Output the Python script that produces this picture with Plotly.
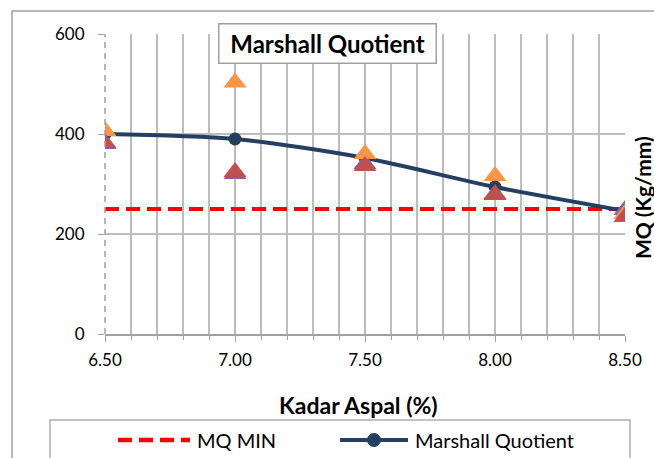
import plotly.graph_objects as go

kadar = [6.5, 7.0, 7.5, 8.0, 8.5]
mq_min = [250, 250, 250, 250, 250]
mq_avg = [400, 390, 352, 294, 246]
sample_purple = [380, 320, 340, 278, 248]
sample_orange = [406, 503, 360, 316, 240]
sample_red = [382, 324, 336, 280, 234]
x_ticks = [6.5, 7.0, 7.5, 8.0, 8.5]
y_ticks = [0, 200, 400, 600]

FONT = "Lato"
RED = "#FF0000"
NAVY = "#243F60"
GRID = "#BDBDBD"
AXC = "#A0A0A0"

fig = go.Figure()
fig.add_trace(go.Scatter(x=kadar, y=mq_min, mode="lines", name="MQ MIN",
                         line=dict(color=RED, width=4, dash="14px,7px")))
fig.add_trace(go.Scatter(x=kadar, y=mq_avg, mode="lines+markers", name="Marshall Quotient",
                         line=dict(color=NAVY, width=4, shape="spline", smoothing=0.8),
                         marker=dict(symbol="circle", size=13, color=NAVY)))
for vals, col in [(sample_purple, "#8064A2"), (sample_orange, "#F79646"), (sample_red, "#C0504D")]:
    fig.add_trace(go.Scatter(x=kadar, y=vals, mode="markers", showlegend=False,
                             marker=dict(symbol="triangle-up", size=20, color=col)))

# legend drawn manually (long Excel-style sample lines)
LY = -0.3533
shapes = [
    dict(type="line", xref="paper", yref="paper", x0=0, x1=0, y0=0, y1=1,
         line=dict(color=AXC, width=1.5, dash="6px,5px")),
    dict(type="rect", xref="paper", yref="paper", x0=-0.1058, x1=1.0096, y0=-0.46, y1=-0.2867,
         line=dict(color="#B0B0B0", width=1.5)),
    dict(type="rect", xref="paper", yref="paper", x0=-0.1788, x1=1.07, y0=-0.46, y1=1.0767,
         line=dict(color=AXC, width=1.5), layer="below"),
    dict(type="line", xref="paper", yref="paper", x0=0.025, x1=0.1635, y0=LY, y1=LY,
         line=dict(color=RED, width=4.5, dash="14px,7px")),
    dict(type="line", xref="paper", yref="paper", x0=0.4519, x1=0.5827, y0=LY, y1=LY,
         line=dict(color=NAVY, width=4)),
    dict(type="circle", xref="paper", yref="paper", xsizemode="pixel", ysizemode="pixel",
         xanchor=0.5173, yanchor=LY, x0=-6.5, x1=6.5, y0=-6.5, y1=6.5,
         fillcolor=NAVY, line=dict(color=NAVY, width=1)),
]

annotations = [
    dict(text="<b>Marshall Quotient</b>", xref="paper", yref="paper", x=0.4288, y=0.968,
         xanchor="center", yanchor="middle", showarrow=False,
         font=dict(size=24, family=FONT, color="black"),
         bgcolor="white", bordercolor=AXC, borderwidth=1.5, borderpad=3,
         width=210, height=32),
    dict(text="<b>MQ (Kg/mm)</b>", xref="paper", yref="paper", x=1.0, xshift=17, y=0.453,
         xanchor="center", yanchor="middle", showarrow=False, textangle=-90,
         font=dict(size=21, family=FONT, color="black")),
    dict(text="<b>Kadar Aspal (%)</b>", xref="paper", yref="paper", x=0.4875, y=-0.237,
         xanchor="center", yanchor="middle", showarrow=False,
         font=dict(size=23, family=FONT, color="black")),
    dict(text="MQ MIN", xref="paper", yref="paper", x=0.1731, y=LY,
         xanchor="left", yanchor="middle", showarrow=False,
         font=dict(size=20, family=FONT, color="black")),
    dict(text="Marshall Quotient", xref="paper", yref="paper", x=0.5923, y=LY,
         xanchor="left", yanchor="middle", showarrow=False,
         font=dict(size=20, family=FONT, color="black")),
]

fig.update_layout(
    width=654, height=458,
    margin=dict(l=105, r=29, t=34, b=124, autoexpand=False),
    paper_bgcolor="white", plot_bgcolor="white",
    font=dict(family=FONT, size=17, color="black"),
    showlegend=False,
    xaxis=dict(range=[6.5, 8.5], tickvals=x_ticks, tickformat=".2f", automargin=False,
               showgrid=True, gridcolor=GRID, gridwidth=1.5,
               showline=True, linecolor=AXC, linewidth=1.5,
               ticks="outside", ticklen=6, tickcolor=AXC, ticklabelstandoff=4,
               minor=dict(dtick=0.1, showgrid=True, gridcolor=GRID, gridwidth=1.5,
                          ticks="outside", ticklen=4, tickcolor=AXC),
               zeroline=False),
    yaxis=dict(range=[0, 600], tickvals=y_ticks, automargin=False,
               showgrid=True, gridcolor=GRID, gridwidth=1.5,
               showline=False, ticks="outside", ticklen=6, tickcolor=AXC,
               ticklabelstandoff=10, zeroline=False),
    shapes=shapes,
    annotations=annotations,
)
fig.write_html("out.html")
